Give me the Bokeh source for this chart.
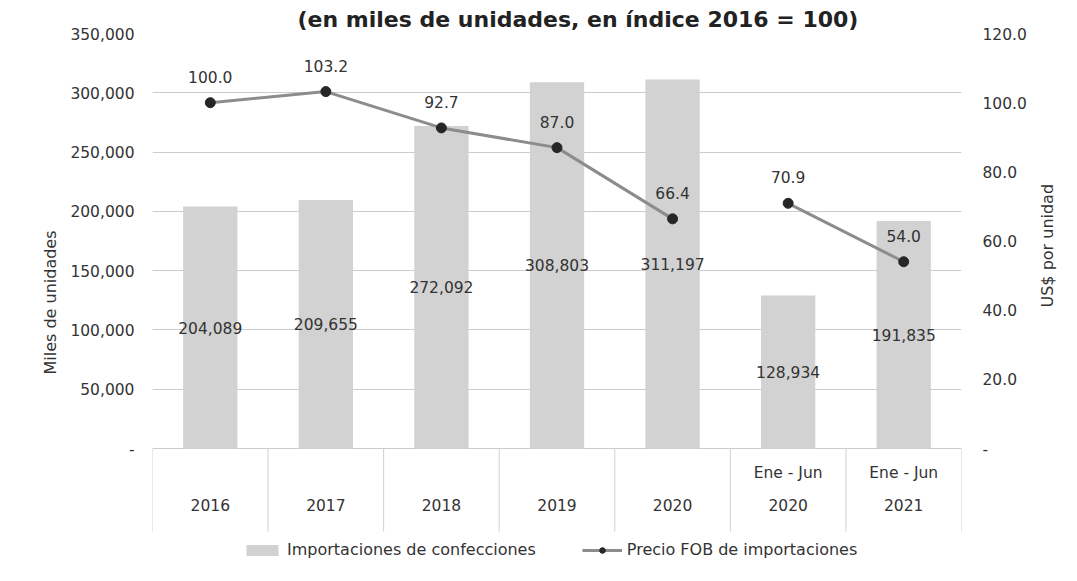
import math
from bokeh.plotting import figure
from bokeh.models import (ColumnDataSource, Range1d, LinearAxis, FixedTicker,
                          NumeralTickFormatter, Legend, LegendItem, Title, FactorRange)
from bokeh.core.properties import value
from bokeh.embed import file_html
from bokeh.resources import INLINE

# ---------------- data ----------------
periods = ["2016", "2017", "2018", "2019", "2020", "Ene-Jun 2020", "Ene-Jun 2021"]
period_top = ["", "", "", "", "", "Ene - Jun", "Ene - Jun"]
period_year = ["2016", "2017", "2018", "2019", "2020", "2020", "2021"]
imports_k = [204089, 209655, 272092, 308803, 311197, 128934, 191835]
price_idx = [100.0, 103.2, 92.7, 87.0, 66.4, 70.9, 54.0]
series_group = ["anual", "anual", "anual", "anual", "anual", "semestral", "semestral"]
left_ticks = [0, 50000, 100000, 150000, 200000, 250000, 300000, 350000]
right_ticks = [0, 20, 40, 60, 80, 100, 120]

title_text = "(en miles de unidades, en índice 2016 = 100)"
bar_name = "Importaciones de confecciones"
line_name = "Precio FOB de importaciones"
left_title = "Miles de unidades"
right_title = "US$ por unidad"

# ---------------- layout / styling ----------------
FONT = "DejaVu Sans"
TXT = "#333333"
W, H = 1069, 573
FRAME_L, FRAME_R, FRAME_T, FRAME_B = 152, 962, 33, 571   # canvas px
ZERO_PX = 448                               # canvas y of the zero line
Y_MAX = 350000
PX = (ZERO_PX - FRAME_T) / Y_MAX            # px per unit
Y_MIN = Y_MAX - (FRAME_B - FRAME_T) / PX
TABLE_BOTTOM = -83 / PX                     # bottom of the category table
Y2_MAX = 120
PX2 = (ZERO_PX - FRAME_T) / Y2_MAX
Y2_MIN = Y_MIN * Y2_MAX / Y_MAX
FRAME_MID = (FRAME_T + FRAME_B) / 2

src = ColumnDataSource(dict(
    period=periods,
    imports=imports_k,
    mid=[v / 2 for v in imports_k],
    imp_lbl=[f"{v:,}" for v in imports_k],
    price=price_idx,
    price_lbl=[f"{v:.1f}" for v in price_idx],
))

p = figure(width=W, height=H,
           x_range=FactorRange(*periods),
           y_range=Range1d(Y_MIN, Y_MAX),
           output_backend="svg", toolbar_location=None,
           min_border_left=FRAME_L, min_border_right=W - FRAME_R,
           min_border_top=FRAME_T, min_border_bottom=H - FRAME_B)
p.extra_y_ranges = {"price": Range1d(Y2_MIN, Y2_MAX)}
p.outline_line_color = None
p.background_fill_color = "white"

# title (top)
p.title.text = title_text
p.title.align = "left"
p.title.offset = 297 - FRAME_L
p.title.standoff = 4
p.title.text_font = FONT
p.title.text_font_size = "22px"
p.title.text_font_style = "bold"
p.title.text_color = "#222222"

# grid
p.xgrid.visible = False
p.ygrid.ticker = FixedTicker(ticks=left_ticks)
p.ygrid.grid_line_color = "#cccccc"
p.ygrid.grid_line_width = 1

# bars
bars = p.vbar(x="period", top="imports", width=0.47, source=src,
              fill_color="#d2d2d2", line_color=None)
p.text(x="period", y="mid", text="imp_lbl", source=src,
       text_align="center", text_baseline="middle",
       text_font=value(FONT), text_font_size="15.5px", text_color=TXT)

# price line (separate segments for annual and semester series)
line_rs = []
scat_rs = []
for g in dict.fromkeys(series_group):
    xs = [per for per, gg in zip(periods, series_group) if gg == g]
    ys = [v for v, gg in zip(price_idx, series_group) if gg == g]
    lr = p.line(xs, ys, y_range_name="price", line_color="#8c8c8c", line_width=3)
    sr = p.scatter(xs, ys, y_range_name="price", size=10,
                   fill_color="#262626", line_color="#262626")
    line_rs.append(lr)
    scat_rs.append(sr)
p.text(x="period", y="price", text="price_lbl", source=src, y_range_name="price",
       y_offset=-26, text_align="center", text_baseline="middle",
       text_font=value(FONT), text_font_size="15.5px", text_color=TXT)

# category table under the axis
n = len(periods)
p.segment(x0=list(range(0, n + 1)), y0=[0] * (n + 1),
          x1=list(range(0, n + 1)), y1=[TABLE_BOTTOM] * (n + 1),
          line_color="#d0d0d0", line_width=1)
p.text(x=periods, y=[-24 / PX] * n, text=period_top,
       text_align="center", text_baseline="middle",
       text_font=value(FONT), text_font_size="15.5px", text_color=TXT)
p.text(x=periods, y=[-56 / PX] * n, text=period_year,
       text_align="center", text_baseline="middle",
       text_font=value(FONT), text_font_size="15.5px", text_color=TXT)

# axes
p.xaxis.visible = False
ya = p.yaxis[0]
ya.ticker = FixedTicker(ticks=left_ticks)
ya.formatter = NumeralTickFormatter(format="0,0")
ya.major_label_overrides = {0: "-"}
ya.axis_line_color = None
ya.major_tick_line_color = None
ya.minor_tick_line_color = None
ya.major_label_standoff = 12
ya.major_label_text_font = FONT
ya.major_label_text_font_size = "15.5px"
ya.major_label_text_color = TXT

ra = LinearAxis(y_range_name="price", ticker=FixedTicker(ticks=right_ticks),
                formatter=NumeralTickFormatter(format="0.0"))
ra.major_label_overrides = {0: "-"}
ra.axis_line_color = None
ra.major_tick_line_color = None
ra.minor_tick_line_color = None
ra.major_label_standoff = 15
ra.major_label_text_font = FONT
ra.major_label_text_font_size = "15.5px"
ra.major_label_text_color = TXT
p.add_layout(ra, "right")

# left axis title (side title, centred on the 0..max band)
p.add_layout(Title(text=left_title, align="center", offset=FRAME_MID - 240,
                   text_font=FONT, text_font_size="16px", text_font_style="normal",
                   text_color=TXT, standoff=16), "left")

# right axis title, reading bottom-to-top like the left one (text starts at the tick)
rt_pos = (ZERO_PX - 307) / PX2
rt = LinearAxis(y_range_name="price", ticker=FixedTicker(ticks=[rt_pos]))
rt.major_label_overrides = {rt_pos: right_title}
rt.major_label_orientation = math.pi / 2
rt.axis_line_color = None
rt.major_tick_line_color = None
rt.minor_tick_line_color = None
rt.major_label_standoff = 12
rt.major_label_text_font = FONT
rt.major_label_text_font_size = "16px"
rt.major_label_text_color = TXT
p.add_layout(rt, "right")

# legend (inside the frame, under the category table)
legend = Legend(items=[LegendItem(label=bar_name, renderers=[bars]),
                       LegendItem(label=line_name, renderers=[line_rs[0], scat_rs[0]])],
                orientation="horizontal", location=(90, 12),
                border_line_color=None, background_fill_alpha=0,
                label_text_font=FONT, label_text_font_size="16px", label_text_color=TXT,
                glyph_width=40, glyph_height=14, label_standoff=5, spacing=46,
                padding=2, margin=0)
p.add_layout(legend)

open("out.html", "w").write(file_html(p, INLINE))
